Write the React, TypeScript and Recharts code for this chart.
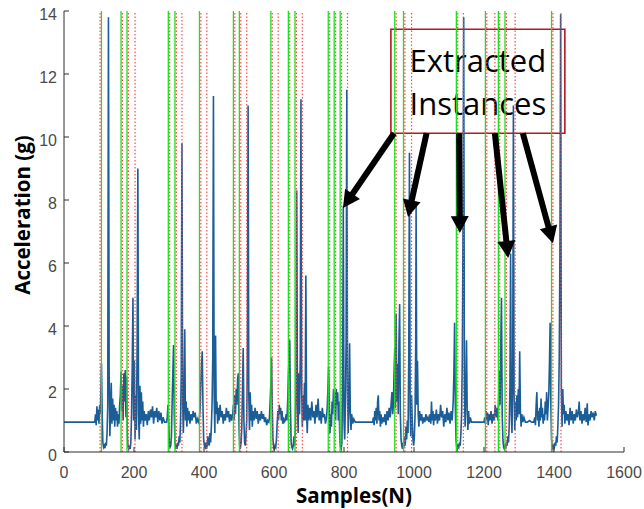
import React from 'react';
import { LineChart, Line, XAxis, YAxis, ReferenceLine, ReferenceArea, Label } from 'recharts';

// ---- axis ticks ----
const xTicks = [0, 200, 400, 600, 800, 1000, 1200, 1400, 1600];
const yTicks = [0, 2, 4, 6, 8, 10, 12, 14];

// ---- signal: [sample N, acceleration g] ----
const quietStart: [number, number][] = [[0, 0.95], [30, 0.95], [60, 0.95], [88, 0.95]];
const burstA: [number, number][] = [
  [90, 1.2], [92, 0.85], [94, 1.45], [96, 1.0], [98, 1.35], [100, 0.9], [102, 1.5], [104, 1.2], [106, 2.2], [107, 2.8],
  [109, 1.3], [111, 0.3], [113, 0.15], [115, 0.2], [117, 0.12], [119, 0.3], [121, 0.2], [123, 0.6], [125, 1.5], [127, 13.8],
  [129, 2.5], [131, 0.5], [133, 1.3], [135, 2.2], [137, 0.9], [139, 1.7], [141, 1.0], [143, 1.5], [145, 0.8], [147, 1.4],
  [149, 1.0], [151, 1.3], [153, 0.8], [155, 1.2], [157, 0.9], [159, 1.5], [161, 1.8], [163, 2.55], [165, 1.3], [167, 2.1],
  [169, 1.0], [171, 2.5], [173, 1.6], [175, 2.6], [177, 1.1], [179, 2.4], [181, 0.5], [183, 0.15], [185, 0.1], [187, 0.2],
  [189, 0.1], [191, 0.3], [193, 1.2], [195, 2.8], [197, 4.9], [199, 1.0], [201, 2.9], [203, 0.4], [205, 1.8], [207, 0.7],
  [209, 3.5], [211, 9.0], [213, 1.2], [215, 0.4], [217, 2.1], [219, 0.9], [221, 1.9], [223, 1.0], [225, 1.6], [227, 0.8],
  [229, 1.3], [232, 1.0], [235, 1.2], [238, 0.85], [241, 1.3], [244, 1.0], [247, 1.35], [250, 1.1], [253, 1.45], [256, 0.9],
  [259, 1.3], [262, 1.1], [265, 1.4], [268, 0.95], [271, 1.3], [274, 1.0], [277, 1.25], [280, 0.9], [283, 1.1], [287, 0.95],
  [293, 0.95],
];
const burstB: [number, number][] = [
  [295, 1.1], [297, 1.5], [299, 1.0], [301, 0.3], [303, 0.15], [305, 0.2], [307, 0.5], [309, 1.6], [311, 2.5], [313, 3.4],
  [315, 1.2], [317, 0.3], [319, 0.15], [321, 0.2], [323, 0.1], [325, 0.3], [327, 0.2], [329, 0.5], [331, 0.3], [333, 1.0],
  [335, 2.5], [337, 9.8], [339, 1.5], [341, 0.6], [343, 1.8], [345, 3.9], [347, 1.0], [349, 1.6], [351, 0.8], [353, 1.4],
  [355, 1.0], [357, 1.3], [360, 0.9], [363, 1.2], [366, 1.0], [369, 1.3], [372, 1.1], [375, 1.25], [378, 0.9], [381, 1.05],
  [384, 0.95], [387, 1.1], [389, 1.4], [391, 2.2], [393, 2.8], [395, 3.2], [397, 1.5], [399, 0.4], [401, 0.2], [403, 0.15],
  [405, 0.3], [407, 0.1], [409, 0.2], [411, 0.5], [413, 0.3], [415, 0.2], [417, 0.6], [419, 0.3], [421, 0.8], [423, 1.5],
  [425, 3.0], [427, 11.3], [429, 1.8], [431, 0.6], [433, 3.7], [435, 1.2], [437, 1.6], [439, 0.9], [441, 1.4], [443, 1.0],
  [446, 1.5], [449, 1.1], [452, 1.3], [455, 0.9], [458, 1.2], [461, 1.0], [464, 1.4], [467, 1.1], [470, 1.3], [473, 0.95],
  [476, 1.2], [479, 1.0], [482, 1.2],
];
const burstC: [number, number][] = [
  [484, 1.5], [486, 1.0], [488, 1.8], [490, 1.2], [492, 2.0], [494, 1.5], [496, 2.3], [498, 2.5], [500, 0.8], [502, 0.2],
  [504, 0.15], [506, 0.3], [508, 0.8], [510, 2.0], [512, 3.3], [514, 1.0], [516, 0.3], [518, 0.2], [520, 0.5], [522, 1.0],
  [524, 3.0], [526, 11.0], [528, 1.8], [530, 0.7], [532, 1.9], [534, 1.0], [536, 1.5], [538, 0.8], [540, 1.3], [543, 1.0],
  [546, 1.4], [549, 1.05], [552, 1.3], [555, 0.9], [558, 1.2], [561, 1.0], [564, 1.3], [567, 1.05], [570, 1.2], [573, 0.95],
  [576, 1.1], [579, 0.85], [582, 1.0], [585, 0.95],
];
const burstD: [number, number][] = [
  [587, 1.1], [589, 1.6], [591, 2.2], [593, 3.0], [595, 1.5], [597, 0.4], [599, 0.15], [601, 0.1], [603, 0.2], [605, 0.15],
  [607, 0.4], [609, 0.9], [611, 1.3], [613, 1.0], [615, 1.5], [617, 1.2], [619, 1.4], [621, 1.0], [623, 1.3], [625, 0.9],
  [627, 1.1], [629, 0.95], [632, 1.0], [635, 1.2], [637, 1.0], [639, 1.6], [641, 2.4], [643, 3.0], [645, 3.55], [647, 1.4],
  [649, 0.3], [651, 0.15], [653, 0.1], [655, 0.2], [657, 0.5], [659, 0.2], [661, 0.8], [663, 2.0], [665, 8.3], [667, 1.5],
  [669, 0.6], [671, 2.5], [673, 1.2], [675, 3.0], [677, 11.2], [679, 2.0], [681, 0.8], [683, 1.8], [685, 1.0], [687, 2.2],
  [689, 1.0], [691, 5.6], [693, 1.3], [695, 0.6], [697, 1.5], [699, 1.0], [702, 1.4], [705, 1.0], [708, 1.6], [711, 1.1],
  [714, 1.3], [717, 0.9], [720, 1.5], [723, 1.1], [726, 1.7], [729, 1.0], [732, 1.3], [735, 0.9], [738, 1.4], [741, 1.1],
  [744, 1.2], [747, 0.9], [750, 1.1],
];
const burstE: [number, number][] = [
  [752, 1.4], [754, 2.0], [756, 2.7], [758, 1.5], [760, 0.6], [762, 1.2], [764, 0.8], [766, 1.6], [768, 1.2], [770, 2.0],
  [772, 1.4], [774, 1.9], [776, 1.0], [778, 2.0], [780, 1.5], [782, 1.9], [784, 1.0], [786, 1.6], [788, 0.4], [790, 0.15],
  [792, 0.1], [794, 0.3], [796, 2.5], [798, 7.8], [800, 1.0], [802, 0.4], [804, 1.5], [806, 3.5], [808, 11.5], [810, 2.0],
  [812, 0.6], [814, 1.5], [816, 3.45], [818, 1.3], [820, 0.7], [822, 1.2], [825, 0.9], [828, 1.05], [832, 0.95],
];
const quietMid: [number, number][] = [[860, 0.95], [882, 0.95]];
const burstF: [number, number][] = [
  [884, 1.1], [886, 0.85], [888, 1.3], [890, 1.0], [892, 1.4], [894, 0.9], [896, 1.6], [898, 1.8], [900, 1.0], [902, 1.3],
  [904, 0.8], [906, 1.2], [908, 0.9], [911, 1.1], [914, 0.95], [917, 1.2], [920, 0.85], [923, 1.3], [926, 1.0], [929, 1.4],
  [932, 1.1], [935, 1.6], [937, 1.9], [939, 1.2], [941, 1.5], [943, 2.5], [945, 3.3], [947, 1.4], [949, 4.4], [951, 1.6],
  [953, 2.8], [955, 1.2], [957, 3.5], [959, 4.7], [961, 1.2], [963, 0.4], [965, 0.2], [967, 0.1], [969, 0.3], [971, 0.15],
  [973, 0.5], [975, 0.2], [977, 0.8], [979, 0.4], [981, 1.0], [983, 0.6], [985, 3.0], [987, 9.5], [989, 1.2], [991, 0.5],
  [993, 1.8], [995, 1.0], [997, 0.4], [999, 0.2], [1001, 0.5], [1003, 1.2], [1005, 3.5], [1006, 7.8], [1008, 1.5], [1010, 2.9],
  [1012, 1.2], [1014, 0.8], [1016, 1.3], [1019, 1.0], [1022, 1.2], [1025, 0.9], [1028, 1.1], [1031, 0.95], [1034, 1.2], [1037, 1.0],
  [1040, 1.1], [1043, 0.95],
];
const burstG: [number, number][] = [
  [1046, 1.2], [1048, 0.9], [1050, 1.6], [1052, 1.0], [1054, 1.3], [1056, 0.85], [1058, 1.2], [1061, 1.0], [1064, 1.35], [1067, 0.9],
  [1070, 1.2], [1073, 1.0], [1076, 1.5], [1079, 1.1], [1082, 1.3], [1085, 0.8], [1088, 1.2], [1091, 0.95], [1094, 1.4], [1097, 1.0],
  [1100, 1.25], [1103, 0.9], [1106, 1.3], [1109, 1.0], [1112, 1.6], [1114, 2.5], [1116, 4.1], [1118, 1.5], [1120, 0.4], [1122, 0.15],
  [1124, 0.1], [1126, 0.2], [1128, 0.15], [1130, 0.3], [1132, 0.2], [1134, 0.6], [1136, 1.2], [1138, 3.0], [1140, 7.0], [1142, 13.8],
  [1144, 2.0], [1146, 0.8], [1148, 2.0], [1150, 3.55], [1152, 1.3], [1154, 0.7], [1156, 1.3], [1158, 0.9], [1161, 1.1], [1164, 0.95],
  [1168, 0.95],
];
const quietLate: [number, number][] = [[1200, 0.95]];
const burstH: [number, number][] = [
  [1202, 1.1], [1204, 0.9], [1206, 1.3], [1208, 1.0], [1210, 1.25], [1212, 0.85], [1214, 1.2], [1217, 1.0], [1220, 1.3], [1223, 0.9],
  [1226, 1.2], [1229, 1.0], [1232, 1.5], [1235, 1.1], [1238, 1.4], [1240, 1.0], [1242, 1.8], [1244, 2.6], [1246, 1.5], [1248, 3.5],
  [1250, 4.9], [1252, 1.2], [1254, 0.4], [1256, 0.15], [1258, 0.1], [1260, 0.2], [1262, 0.15], [1264, 0.3], [1266, 0.2], [1268, 0.5],
  [1270, 0.3], [1272, 0.8], [1274, 2.0], [1276, 6.3], [1278, 1.2], [1280, 0.6], [1282, 2.5], [1284, 11.0], [1286, 1.8], [1288, 0.7],
  [1290, 1.6], [1292, 1.0], [1294, 1.8], [1296, 1.1], [1298, 2.0], [1300, 1.2], [1302, 3.2], [1304, 1.3], [1306, 0.8], [1308, 1.2],
  [1311, 0.95], [1314, 1.1], [1318, 0.95], [1324, 0.95], [1330, 1.0], [1336, 0.95], [1342, 0.95],
];
const burstI: [number, number][] = [
  [1345, 1.1], [1347, 0.85], [1349, 1.5], [1351, 1.9], [1353, 1.0], [1355, 1.3], [1357, 0.8], [1359, 1.4], [1361, 1.0], [1363, 1.7],
  [1365, 1.1], [1367, 1.4], [1369, 0.9], [1371, 1.2], [1373, 1.0], [1375, 1.6], [1377, 1.2], [1379, 1.9], [1381, 1.0], [1383, 1.4],
  [1385, 1.8], [1387, 2.8], [1389, 4.1], [1391, 1.5], [1393, 0.4], [1395, 0.15], [1397, 0.1], [1399, 0.2], [1401, 0.15], [1403, 0.3],
  [1405, 0.2], [1407, 0.5], [1409, 0.3], [1411, 0.8], [1413, 1.5], [1415, 3.0], [1417, 6.5], [1419, 13.9], [1421, 2.0], [1423, 0.8],
  [1425, 2.0], [1427, 1.2], [1429, 1.5], [1431, 0.9], [1434, 1.3], [1437, 1.0], [1440, 1.2], [1443, 0.85], [1446, 1.4], [1449, 1.0],
  [1452, 1.3], [1455, 0.9], [1458, 1.2], [1461, 1.0], [1464, 1.35], [1467, 1.1], [1470, 1.3], [1472, 1.6], [1474, 1.0], [1477, 1.3],
  [1480, 0.9], [1483, 1.2], [1486, 1.0], [1489, 1.4], [1492, 0.95], [1495, 1.55], [1497, 0.84], [1500, 1.2], [1503, 1.0], [1506, 1.3],
  [1509, 1.1], [1512, 1.25], [1515, 1.0], [1518, 1.3], [1521, 1.15],
];

// ---- instance markers (sample N) ----
const greenLines = [107, 163, 180, 298, 317, 387, 484, 501, 591, 641, 660, 755, 772, 789, 945, 970, 1121, 1204, 1241, 1260, 1393];
const redLines = [103, 167, 184, 203, 302, 321, 337, 391, 408, 488, 505, 522, 595, 612, 645, 664, 681, 759, 776, 793, 810,
  949, 974, 993, 1125, 1141, 1208, 1231, 1245, 1264, 1289, 1397, 1420];

// ---- annotation (data coordinates) ----
const boxX = [934, 1431];
const boxY = [10.12, 13.42];
const boxLines = ['Extracted', 'Instances'];
const arrowStarts: [number, number][] = [[943, 10.12], [1036, 10.12], [1129, 10.12], [1231, 10.12], [1311, 10.12]];
const arrowEnds: [number, number][] = [[797, 7.75], [983, 7.46], [1131, 6.95], [1269, 6.16], [1397, 6.63]];

const data = [
  ...quietStart, ...burstA, ...burstB, ...burstC, ...burstD, ...burstE, ...quietMid,
  ...burstF, ...burstG, ...quietLate, ...burstH, ...burstI,
].map(([n, g]) => ({ n, g }));

const AXIS = '#2e2e2e';
const TICKTXT = '#4a4a4a';
const TICK_FONT = '"Liberation Sans", Arial, sans-serif';

const BottomTick = (p: any) => (
  <g>
    <line x1={p.x} x2={p.x} y1={p.y} y2={p.y - 5} stroke={AXIS} strokeWidth={1} />
    <text x={p.x} y={p.y + 26} textAnchor="middle" fontSize={16} fontFamily={TICK_FONT} fill={TICKTXT}>
      {p.payload.value}
    </text>
  </g>
);
const LeftTick = (p: any) => (
  <g>
    <line x1={p.x} x2={p.x + 5} y1={p.y} y2={p.y} stroke={AXIS} strokeWidth={1} />
    <text x={p.x - 7} y={p.y + 9} textAnchor="end" fontSize={16} fontFamily={TICK_FONT} fill={TICKTXT}>
      {p.payload.value}
    </text>
  </g>
);
const TopTick = (p: any) => <line x1={p.x} x2={p.x} y1={p.y} y2={p.y + 5} stroke={AXIS} strokeWidth={1} />;
const RightTick = (p: any) => <line x1={p.x} x2={p.x - 5} y1={p.y} y2={p.y} stroke={AXIS} strokeWidth={1} />;

const ArrowShape = (p: any) => {
  const { x1, y1, x2, y2 } = p;
  const dx = x2 - x1;
  const dy = y2 - y1;
  const len = Math.sqrt(dx * dx + dy * dy) || 1;
  const ux = dx / len;
  const uy = dy / len;
  const head = 17;
  const half = 9;
  const bx = x2 - ux * head;
  const by = y2 - uy * head;
  return (
    <g>
      <line x1={x1} y1={y1} x2={bx + ux * 2} y2={by + uy * 2} stroke="#000" strokeWidth={6} />
      <polygon
        points={`${x2},${y2} ${bx - uy * half},${by + ux * half} ${bx + uy * half},${by - ux * half}`}
        fill="#000"
      />
    </g>
  );
};

const BoxText = (p: any) => {
  const vb = p.viewBox;
  const cx = vb.x + vb.width / 2;
  return (
    <g>
      <text x={cx} y={vb.y + 43} textAnchor="middle" fontSize={31} fontFamily='"Open Sans", sans-serif' fill="#000">
        {boxLines[0]}
      </text>
      <text x={cx} y={vb.y + 86} textAnchor="middle" fontSize={31} fontFamily='"Open Sans", sans-serif' fill="#000">
        {boxLines[1]}
      </text>
    </g>
  );
};

const YTitle = (p: any) => {
  const vb = p.viewBox;
  const x = vb.x + 30;
  const y = 215;
  return (
    <text x={x} y={y} transform={`rotate(-90, ${x}, ${y})`} textAnchor="middle" fontSize={20.5}
      fontWeight="bold" fontFamily='"Open Sans", sans-serif' fill="#000">
      Acceleration (g)
    </text>
  );
};
const XTitle = (p: any) => {
  const vb = p.viewBox;
  return (
    <text x={vb.x + vb.width / 2 + 10} y={vb.y + 51} textAnchor="middle" fontSize={20.5}
      fontWeight="bold" fontFamily='"Open Sans", sans-serif' fill="#000">
      Samples(N)
    </text>
  );
};

export default function App() {
  return (
    <div style={{ position: 'fixed', left: 0, top: 0, background: '#fff' }}>
      <LineChart width={644} height={509} data={data} margin={{ top: 11, right: 20, bottom: 0, left: 0 }}>
        <XAxis dataKey="n" type="number" domain={[0, 1600]} ticks={xTicks} allowDataOverflow
          height={57} tickSize={0} tickMargin={0} tickLine={false} axisLine={{ stroke: AXIS }} tick={BottomTick}>
          <Label content={XTitle} />
        </XAxis>
        <XAxis xAxisId="top" orientation="top" dataKey="n" type="number" domain={[0, 1600]} ticks={xTicks}
          allowDataOverflow height={0} tickSize={0} tickMargin={0} tickLine={false} axisLine={{ stroke: AXIS }} tick={TopTick} />
        <YAxis type="number" domain={[0, 14]} ticks={yTicks} allowDataOverflow width={64} tickSize={0}
          tickMargin={0} tickLine={false} axisLine={{ stroke: AXIS }} tick={LeftTick}>
          <Label content={YTitle} />
        </YAxis>
        <YAxis yAxisId="right" orientation="right" type="number" domain={[0, 14]} ticks={yTicks} allowDataOverflow
          width={0} tickSize={0} tickMargin={0} tickLine={false} axisLine={{ stroke: AXIS }} tick={RightTick} />
        <Line type="linear" dataKey="g" stroke="#1a5d97" strokeWidth={1.6} dot={false} isAnimationActive={false} />
        {greenLines.map((v) => (
          <ReferenceLine key={'g' + v} x={v} stroke="#1ee01e" strokeWidth={1.3} />
        ))}
        {redLines.map((v) => (
          <ReferenceLine key={'r' + v} x={v} stroke="#ff4a4a" strokeWidth={1.2} strokeDasharray="1.5 2" />
        ))}
        {arrowStarts.map((s, i) => (
          <ReferenceLine key={'a' + i} segment={[{ x: s[0], y: s[1] }, { x: arrowEnds[i][0], y: arrowEnds[i][1] }]}
            shape={ArrowShape} />
        ))}
        <ReferenceArea x1={boxX[0]} x2={boxX[1]} y1={boxY[0]} y2={boxY[1]} fill="#fff" fillOpacity={1}
          stroke="#b3191e" strokeWidth={1.6}>
          <Label content={BoxText} />
        </ReferenceArea>
      </LineChart>
    </div>
  );
}
